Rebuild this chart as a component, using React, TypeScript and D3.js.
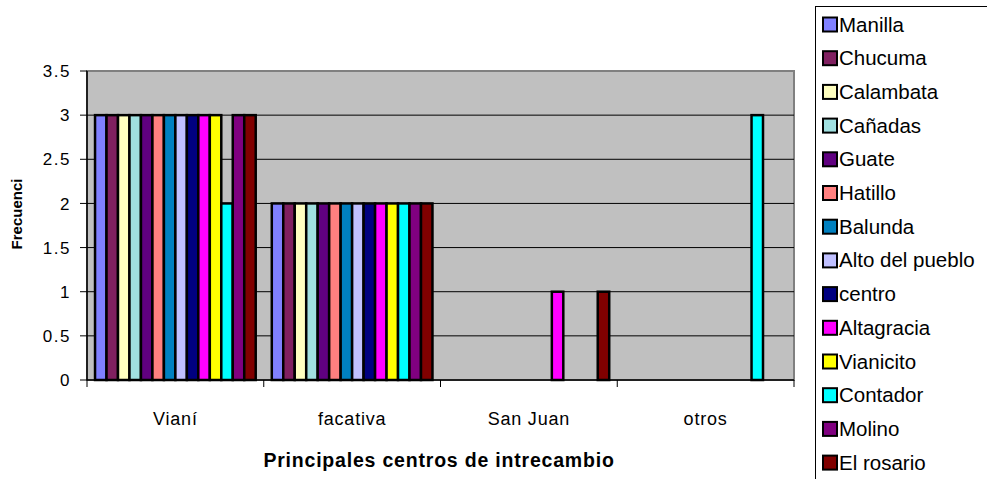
import * as d3 from "d3";

const width = 987;
const height = 479;
const plot = { left: 87, right: 794, top: 71, bottom: 380 };

const categories = ["Vianí", "facativa", "San Juan", "otros"];
const series = [
  "Manilla",
  "Chucuma",
  "Calambata",
  "Cañadas",
  "Guate",
  "Hatillo",
  "Balunda",
  "Alto del pueblo",
  "centro",
  "Altagracia",
  "Vianicito",
  "Contador",
  "Molino",
  "El rosario",
];
const colors = [
  "#8080FF",
  "#802060",
  "#FFFFC0",
  "#A0E0E0",
  "#600080",
  "#FF8080",
  "#0080C0",
  "#C0C0FF",
  "#000080",
  "#FF00FF",
  "#FFFF00",
  "#00FFFF",
  "#800080",
  "#800000",
];
// values[series][category]
const values = [
  [3, 2, 0, 0],
  [3, 2, 0, 0],
  [3, 2, 0, 0],
  [3, 2, 0, 0],
  [3, 2, 0, 0],
  [3, 2, 0, 0],
  [3, 2, 0, 0],
  [3, 2, 0, 0],
  [3, 2, 0, 0],
  [3, 2, 1, 0],
  [3, 2, 0, 0],
  [2, 2, 0, 3],
  [3, 2, 0, 0],
  [3, 2, 1, 0],
];
const yTicks = [0, 0.5, 1, 1.5, 2, 2.5, 3, 3.5];

const font = "'Liberation Sans', Arial, sans-serif";

const App = () => {
  const x0 = d3
    .scaleBand<string>()
    .domain(categories)
    .range([plot.left, plot.right]);
  const x1 = d3
    .scaleBand<string>()
    .domain(series)
    .range([0, x0.bandwidth()])
    .paddingOuter(0.7);
  const y = d3.scaleLinear().domain([0, 3.5]).range([plot.bottom, plot.top]);

  const boundaries = categories.map((c) => x0(c)!).concat([plot.right]);

  return (
    <svg
      width={width}
      height={height}
      style={{ position: "absolute", left: 0, top: 0, background: "#fff" }}
      fontFamily={font}
    >
      {/* plot area */}
      <rect
        x={plot.left}
        y={plot.top}
        width={plot.right - plot.left}
        height={plot.bottom - plot.top}
        fill="#C0C0C0"
        stroke="#808080"
        strokeWidth={2}
      />
      {yTicks
        .filter((t) => t > 0 && t < 3.5)
        .map((t) => (
          <line
            key={t}
            x1={plot.left}
            x2={plot.right}
            y1={y(t)}
            y2={y(t)}
            stroke="#000"
            strokeWidth={1}
          />
        ))}

      {/* bars */}
      {categories.map((c, ci) => (
        <g key={c} transform={`translate(${x0(c)},0)`}>
          {series.map((s, si) => {
            const v = values[si][ci];
            if (!v) return null;
            return (
              <rect
                key={s}
                x={x1(s)}
                y={y(v)}
                width={x1.bandwidth()}
                height={y(0) - y(v)}
                fill={colors[si]}
                stroke="#000"
                strokeWidth={2.5}
              />
            );
          })}
        </g>
      ))}

      {/* axes */}
      <line
        x1={plot.left}
        x2={plot.left}
        y1={plot.top}
        y2={plot.bottom}
        stroke="#000"
        strokeWidth={1.5}
      />
      <line
        x1={plot.left}
        x2={plot.right}
        y1={plot.bottom}
        y2={plot.bottom}
        stroke="#000"
        strokeWidth={1.5}
      />
      {yTicks.map((t) => (
        <g key={t} transform={`translate(0,${y(t)})`}>
          <line x1={plot.left - 7} x2={plot.left} stroke="#000" />
          <text
            x={71}
            dy="0.36em"
            textAnchor="end"
            fontSize={17}
            letterSpacing={1.5}
            fill="#000"
          >
            {t}
          </text>
        </g>
      ))}
      {boundaries.map((b, i) => (
        <line
          key={i}
          x1={b}
          x2={b}
          y1={plot.bottom}
          y2={plot.bottom + 7}
          stroke="#000"
        />
      ))}
      {categories.map((c) => (
        <text
          key={c}
          x={x0(c)! + x0.bandwidth() / 2}
          y={425}
          textAnchor="middle"
          fontSize={18}
          letterSpacing={0.8}
          fill="#000"
        >
          {c}
        </text>
      ))}
      <text
        x={439}
        y={467}
        textAnchor="middle"
        fontSize={19.5}
        fontWeight="bold"
        letterSpacing={0.8}
      >
        Principales centros de intrecambio
      </text>
      <text
        transform={`translate(22,214) rotate(-90)`}
        textAnchor="middle"
        fontSize={15}
        fontWeight="bold"
      >
        Frecuenci
      </text>

      {/* legend */}
      <rect
        x={815.5}
        y={6.5}
        width={200}
        height={500}
        fill="#fff"
        stroke="#000"
        strokeWidth={1}
      />
      {series.map((s, i) => (
        <g key={s} transform={`translate(822,${24 + i * 33.7})`}>
          <rect
            x={1}
            y={-6.5}
            width={14}
            height={14}
            fill={colors[i]}
            stroke="#000"
            strokeWidth={2}
          />
          <text x={17} y={7.5} fontSize={20.5} fill="#000">
            {s}
          </text>
        </g>
      ))}
    </svg>
  );
};

export default App;
